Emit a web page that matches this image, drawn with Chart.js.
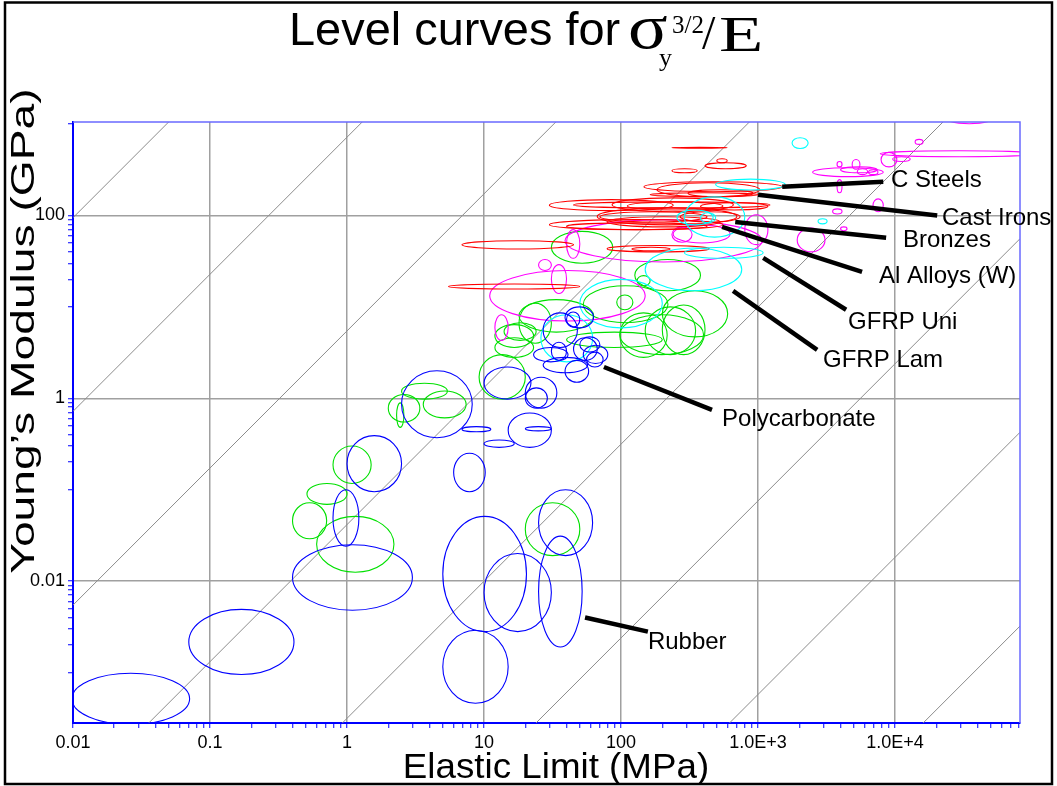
<!DOCTYPE html>
<html><head><meta charset="utf-8">
<script src="https://cdn.jsdelivr.net/npm/chart.js@4.4.1/dist/chart.umd.min.js"></script>
<style>
html,body{margin:0;padding:0;background:#fff;}
#wrap{position:relative;width:1057px;height:786px;overflow:hidden;background:#fff;}
#c{position:absolute;left:0;top:0;}
#title{position:absolute;left:0;top:0;width:1057px;height:90px;pointer-events:none;color:#000;}
.t{position:absolute;white-space:nowrap;line-height:1;transform-origin:0 0;}
.sans{font-family:"Liberation Sans",Arial,sans-serif;}
.serif{font-family:"Liberation Serif","Times New Roman",serif;}
</style></head><body>
<div id="wrap">
<canvas id="c" width="1057" height="786"></canvas>
<div id="title">
  <span class="t sans" style="left:289px;top:6px;font-size:46px;transform:scaleX(1.02);">Level curves for</span>
  <span class="t serif" style="left:628px;top:-5px;font-size:64px;transform:scaleX(1.15);">σ</span>
  <span class="t serif" style="left:659px;top:45px;font-size:26px;">y</span>
  <span class="t serif" style="left:672px;top:12px;font-size:25px;">3/2</span>
  <span class="t serif" style="left:702px;top:9px;font-size:48px;">/</span>
  <span class="t serif" style="left:719px;top:9px;font-size:50px;transform:scaleX(1.45);">E</span>
</div>
</div>
<script>
// ---------- axis ranges and ticks ----------
const X_MIN = 0.01, X_MAX = 81600;
const Y_MIN = 0.00028, Y_MAX = 1054;
const xTickValues = [0.01, 0.1, 1, 10, 100, 1000, 10000];
const xTickLabels = ['0.01', '0.1', '1', '10', '100', '1.0E+3', '1.0E+4'];
const yTickValues = [100, 1, 0.01];
const yTickLabels = ['100', '1', '0.01'];
const yMinorDecades = [10, 0.1, 0.001];

// ---------- level curves  E = K * sigma^1.5 ----------
const levelConstants = [9.46e4, 719, 5.46, 0.0415, 3.15e-4, 2.39e-6, 1.82e-8, 1.38e-10];

// ---------- material property envelopes [sigmaMin, sigmaMax, Emin, Emax] ----------
const redMaterials = [
  [235, 595, 545, 557], [500, 595, 377, 417], [410, 820, 325, 377], [235, 360, 294, 325],
  [147, 1500, 182, 234], [183, 1030, 160, 228], [308, 920, 160, 191], [30, 240, 113, 149],
  [45, 1220, 121, 141], [86, 660, 110, 156], [111, 555, 115, 141], [67, 700, 79, 121],
  [70, 424, 85, 110], [30, 555, 70, 90], [40, 424, 70, 83], [79, 530, 75, 97],
  [6.9, 45, 43, 53], [79, 440, 40, 47], [120, 228, 41, 45], [5.5, 50, 15.7, 17.8],
  [163, 1000, 161, 177], [380, 1180, 115, 138], [270, 740, 85, 110]
];
const magentaMaterials = [
  [7800, 110000, 440, 510], [2500, 8200, 266, 333], [7900, 10300, 340, 490], [9600, 12900, 390, 440],
  [14000, 16000, 600, 680], [3770, 4100, 340, 390], [4860, 5540, 320, 410], [4000, 7400, 293, 341],
  [5300, 6300, 280, 325], [6400, 7500, 280, 317], [3770, 4100, 177, 247], [6900, 8200, 110, 152],
  [3500, 4100, 104, 118], [4000, 4460, 68, 75], [1930, 3080, 40, 73], [800, 1180, 48, 102],
  [39, 1070, 31, 90], [235, 330, 51, 75], [240, 625, 50, 79], [40, 50, 34, 70],
  [25, 31, 25, 33], [31, 40, 14, 29], [11, 150, 7.0, 25], [12, 15, 4.3, 8.2],
  [22000, 55000, 1010, 1500]
];
const cyanMaterials = [
  [1770, 2320, 540, 710], [490, 1580, 190, 250], [2740, 3190, 81, 92], [290, 800, 58, 160],
  [256, 470, 79, 115], [150, 760, 15, 44], [290, 1090, 34, 45], [50, 200, 5.9, 20],
  [26, 62, 2.5, 8.2], [380, 490, 83, 107]
];
const greenMaterials = [
  [0.40, 0.71, 0.029, 0.072], [0.51, 1.0, 0.069, 0.117], [0.79, 1.5, 0.117, 0.30], [0.60, 2.2, 0.0125, 0.051],
  [2.0, 3.4, 0.55, 1.1], [2.5, 5.4, 0.98, 1.46], [3.6, 7.4, 0.61, 1.2], [2.3, 2.6, 0.48, 0.89],
  [9.2, 20, 0.98, 3.0], [20, 50, 0.019, 0.072], [31, 87, 30, 67], [18, 63, 5.3, 12],
  [18, 31, 4.0, 11], [12, 23, 2.8, 4.6], [14, 24, 4.3, 6.7], [53, 220, 6.7, 17],
  [93, 122, 9.3, 13.5], [40, 200, 3.6, 5.3], [98, 217, 2.8, 8.6], [150, 350, 3.0, 10],
  [200, 410, 3.0, 10.5], [126, 380, 15, 33], [131, 163, 17, 22], [200, 600, 4.7, 15],
  [98, 400, 3.0, 8.2], [12, 23, 3.6, 6.4]
];
const blueMaterials = [
  [0.0098, 0.071, 0.00027, 0.00098], [0.070, 0.41, 0.00095, 0.0049], [0.40, 3.0, 0.0048, 0.025],
  [0.79, 1.22, 0.024, 0.10], [1.0, 2.5, 0.095, 0.39], [2.5, 8.2, 0.37, 2.0],
  [6.9, 11.2, 0.43, 0.49], [10, 16.6, 0.29, 0.35], [15, 31, 0.29, 0.69], [20, 31, 0.44, 0.49],
  [6.0, 10.2, 0.095, 0.25], [5.0, 20.4, 0.0028, 0.051], [10, 31, 0.0028, 0.020],
  [25, 52, 0.0019, 0.031], [25, 62, 0.019, 0.10], [5.0, 15, 0.00046, 0.0029],
  [10, 22, 0.98, 2.2], [20, 34, 0.78, 1.7], [20, 29, 0.78, 1.3],
  [27, 48, 3.6, 8.6], [39, 63, 5.9, 10], [40, 50, 6.0, 8.8], [23, 41, 2.5, 3.6],
  [27, 57, 1.9, 2.8], [31, 40, 2.6, 4.1], [39, 58, 1.5, 2.6], [45, 67, 2.6, 4.6],
  [53, 80, 2.4, 3.8], [56, 74, 2.2, 3.2], [50, 70, 3.2, 4.7]
];

// ---------- callouts ----------
const calloutTexts = ['C Steels', 'Cast Irons', 'Bronzes', 'Al Alloys (W)', 'GFRP Uni', 'GFRP Lam', 'Polycarbonate', 'Rubber'];
const calloutFrom = [[1500, 206], [1000, 169], [681, 85], [546, 75], [1090, 34.4], [657, 15], [75, 2.2], [54.6, 0.0040]];
const calloutTo = [[8200, 234], [20300, 100], [8600, 57], [5740, 24.2], [4390, 9.3], [2700, 3.38], [461, 0.745], [157, 0.0028]];
const calloutTextAt = [[9350, 240], [22000, 94], [11400, 53], [7630, 21.3], [4540, 6.85], [2980, 2.63], [546, 0.59], [157, 0.00214]];

// ---------- helpers ----------
const near = (a, b) => Math.abs(Math.log10(a) - Math.log10(b)) < 1e-6;
const xTicks = [];
for (let k = -2; k <= 4; k++) for (let m = 1; m <= 9; m++) { const v = m * Math.pow(10, k); if (v <= X_MAX) xTicks.push(v); }
const yTicks = [1000, ...yTickValues];
yMinorDecades.forEach(d => { for (let m = 1; m <= 9; m++) yTicks.push(m * d); });
yTicks.sort((a, b) => a - b);

const SANS = '"Liberation Sans", Arial, sans-serif';

const levelDatasets = levelConstants.map(K => ({
  data: [{x: X_MIN, y: K * Math.pow(X_MIN, 1.5)}, {x: X_MAX, y: K * Math.pow(X_MAX, 1.5)}],
  showLine: true, borderColor: '#8c8c8c', borderWidth: 1, pointRadius: 0, fill: false
}));

const materialGroups = [
  {list: greenMaterials, color: '#00e000'},
  {list: magentaMaterials, color: '#ff00ff'},
  {list: redMaterials, color: '#ff0000'},
  {list: cyanMaterials, color: '#00ffff'},
  {list: blueMaterials, color: '#0000ff'}
];

const envelopePlugin = {
  id: 'envelopes',
  afterDatasetsDraw(chart) {
    const {ctx, chartArea: a, scales: {x, y}} = chart;
    ctx.save();
    ctx.beginPath(); ctx.rect(a.left, a.top, a.right - a.left, a.bottom - a.top); ctx.clip();
    materialGroups.forEach(g => {
      ctx.strokeStyle = g.color; ctx.lineWidth = 1.1;
      g.list.forEach(([s0, s1, e0, e1]) => {
        const x0 = x.getPixelForValue(s0), x1 = x.getPixelForValue(s1);
        const y0 = y.getPixelForValue(e0), y1 = y.getPixelForValue(e1);
        ctx.beginPath();
        ctx.ellipse((x0 + x1) / 2, (y0 + y1) / 2, Math.abs(x1 - x0) / 2, Math.abs(y1 - y0) / 2, 0, 0, Math.PI * 2);
        ctx.stroke();
      });
    });
    ctx.restore();
  },
  afterDraw(chart) {
    const {ctx, chartArea: a, scales: {x, y}} = chart;
    ctx.save();
    // top & right plot border
    ctx.strokeStyle = '#6a6aff'; ctx.lineWidth = 1.5;
    ctx.beginPath(); ctx.moveTo(a.left, a.top); ctx.lineTo(a.right, a.top); ctx.lineTo(a.right, a.bottom); ctx.stroke();
    // callouts
    ctx.beginPath(); ctx.rect(0, 0, 1051, 786); ctx.clip();
    ctx.strokeStyle = '#000'; ctx.lineWidth = 4.5; ctx.lineCap = 'butt';
    calloutTexts.forEach((t, i) => {
      ctx.beginPath();
      ctx.moveTo(x.getPixelForValue(calloutFrom[i][0]), y.getPixelForValue(calloutFrom[i][1]));
      ctx.lineTo(x.getPixelForValue(calloutTo[i][0]), y.getPixelForValue(calloutTo[i][1]));
      ctx.stroke();
    });
    ctx.fillStyle = '#000'; ctx.font = '24px ' + SANS; ctx.textAlign = 'left'; ctx.textBaseline = 'middle';
    calloutTexts.forEach((t, i) => {
      ctx.fillText(t, x.getPixelForValue(calloutTextAt[i][0]), y.getPixelForValue(calloutTextAt[i][1]));
    });
    ctx.restore();
    // axis titles
    ctx.save();
    ctx.fillStyle = '#000';
    ctx.font = '35px ' + SANS; ctx.textAlign = 'center'; ctx.textBaseline = 'alphabetic';
    ctx.save();
    ctx.translate(556, 778); ctx.scale(1.05, 1);
    ctx.fillText('Elastic Limit (MPa)', 0, 0);
    ctx.restore();
    ctx.translate(34, 331); ctx.rotate(-Math.PI / 2); ctx.scale(1.4, 1);
    ctx.font = '33px ' + SANS;
    ctx.fillText('Young\u2019s Modulus (GPa)', 0, 0);
    ctx.restore();
    // outer frame
    ctx.save();
    ctx.strokeStyle = '#000'; ctx.lineWidth = 2.5;
    ctx.strokeRect(5, 2.5, 1047, 781.5);
    ctx.restore();
  }
};

new Chart(document.getElementById('c'), {
  type: 'scatter',
  data: {datasets: levelDatasets},
  options: {
    responsive: false, animation: false, devicePixelRatio: 1,
    layout: {padding: {left: 0, top: 122, right: 37, bottom: 0}},
    plugins: {legend: {display: false}, tooltip: {enabled: false}, title: {display: false}},
    scales: {
      x: {
        type: 'logarithmic', min: X_MIN, max: X_MAX,
        afterBuildTicks: s => { s.ticks = xTicks.map(v => ({value: v})); },
        afterFit: s => { s.height = 63; },
        ticks: {
          autoSkip: false, maxRotation: 0, minRotation: 0, padding: 4, color: '#000',
          font: {family: SANS, size: 18},
          callback: v => { const i = xTickValues.findIndex(t => near(t, v)); return i >= 0 ? xTickLabels[i] : ''; }
        },
        grid: {
          color: c => (c.tick && xTickValues.some(t => near(t, c.tick.value)) && !near(c.tick.value, X_MIN)) ? '#a0a0a0' : 'rgba(0,0,0,0)',
          lineWidth: 1.5, tickColor: '#0000ff', tickLength: 5, tickWidth: 1, drawTicks: true
        },
        border: {display: true, color: '#0000ff', width: 2}
      },
      y: {
        type: 'logarithmic', min: Y_MIN, max: Y_MAX,
        afterBuildTicks: s => { s.ticks = yTicks.map(v => ({value: v})); },
        afterFit: s => { s.width = 73; },
        ticks: {
          autoSkip: false, padding: 3, color: '#000',
          font: {family: SANS, size: 18},
          callback: v => { const i = yTickValues.findIndex(t => near(t, v)); return i >= 0 ? yTickLabels[i] : ''; }
        },
        grid: {
          color: c => (c.tick && yTickValues.some(t => near(t, c.tick.value))) ? '#a0a0a0' : 'rgba(0,0,0,0)',
          lineWidth: 1.5, tickColor: '#0000ff', tickLength: 5, tickWidth: 1, drawTicks: true
        },
        border: {display: true, color: '#0000ff', width: 2}
      }
    }
  },
  plugins: [envelopePlugin]
});
</script>
</body></html>
